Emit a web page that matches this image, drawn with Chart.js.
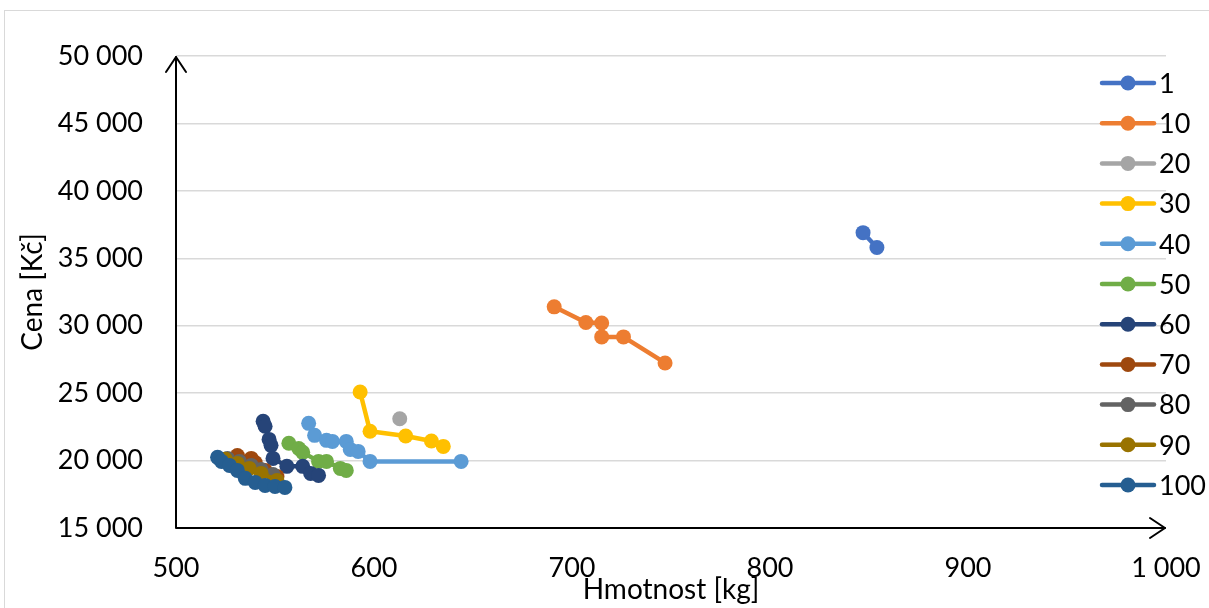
<!DOCTYPE html>
<html lang="cs">
<head>
<meta charset="utf-8">
<title>Cena a hmotnost</title>
<script src="https://cdn.jsdelivr.net/npm/chart.js@4.4.1/dist/chart.umd.min.js"></script>
<style>
  html, body { margin: 0; padding: 0; background: #fff; }
  #obal { width: 1209px; height: 608px; }
</style>
</head>
<body>
<div id="obal"><canvas id="graf" width="1209" height="608"></canvas></div>
<script>
// data
const nazvy = ['1', '10', '20', '30', '40', '50', '60', '70', '80', '90', '100'];
const barvy = ['#4472C4', '#ED7D31', '#A5A5A5', '#FFC000', '#5B9BD5', '#70AD47',
               '#264478', '#9E480E', '#636363', '#997300', '#255E91'];

const hmotnost1 = [847, 854];
const cena1 = [36900, 35800];
const hmotnost10 = [691, 707, 715, 715, 726, 747];
const cena10 = [31400, 30240, 30200, 29170, 29170, 27240];
const hmotnost20 = [613];
const cena20 = [23100];
const hmotnost30 = [593, 598, 616, 629, 635];
const cena30 = [25090, 22170, 21820, 21450, 21050];
const hmotnost40 = [567, 570, 576, 579, 586, 588, 592, 598, 644];
const cena40 = [22760, 21870, 21500, 21420, 21420, 20830, 20680, 19940, 19940];
const hmotnost50 = [557, 562, 564, 572, 576, 583, 586];
const cena50 = [21280, 20900, 20610, 19940, 19940, 19420, 19270];
const hmotnost60 = [544, 545, 547, 548, 549, 556, 564, 568, 572];
const cena60 = [22910, 22540, 21570, 21130, 20160, 19570, 19570, 19050, 18900];
const hmotnost70 = [531, 538, 540, 545, 551];
const cena70 = [20380, 20160, 19860, 19270, 18820];
const hmotnost80 = [526, 532, 538, 543, 549];
const cena80 = [20160, 19940, 19640, 19340, 18970];
const hmotnost90 = [525, 531, 537, 543, 551];
const cena90 = [20090, 19790, 19420, 19050, 18530];
const hmotnost100 = [521, 523, 527, 531, 535, 540, 545, 550, 555];
const cena100 = [20240, 19940, 19640, 19270, 18680, 18380, 18160, 18080, 18010];

const hmotnosti = [hmotnost1, hmotnost10, hmotnost20, hmotnost30, hmotnost40, hmotnost50,
                   hmotnost60, hmotnost70, hmotnost80, hmotnost90, hmotnost100];
const ceny = [cena1, cena10, cena20, cena30, cena40, cena50,
              cena60, cena70, cena80, cena90, cena100];

const osaX = { min: 500, max: 1000, krok: 100 };
const osaY = { min: 15000, max: 50000, krok: 5000 };

const tisice = (v) => String(v).replace(/\B(?=(\d{3})+(?!\d))/g, ' ');
const pismo = 'Lato, "Open Sans", sans-serif';

// pozadí, rámeček, osy se šipkami a legenda
const kresleni = {
    id: 'kresleni',
    beforeDraw(chart) {
        const c = chart.ctx;
        c.save();
        c.fillStyle = '#fff';
        c.fillRect(0, 0, chart.width, chart.height);
        c.strokeStyle = '#d9d9d9';
        c.lineWidth = 1;
        c.strokeRect(4.5, 10.5, chart.width + 20, chart.height + 20);
        c.restore();
    },
    beforeDatasetsDraw(chart) {
        const c = chart.ctx;
        const a = chart.chartArea;
        c.save();
        c.strokeStyle = '#000';
        c.lineWidth = 2;
        c.lineCap = 'round';
        c.lineJoin = 'round';
        c.beginPath();
        c.moveTo(a.left, a.top + 1);
        c.lineTo(a.left, a.bottom);
        c.lineTo(a.right - 1, a.bottom);
        c.stroke();
        // šipky
        c.beginPath();
        c.moveTo(a.left - 10, a.top + 16);
        c.lineTo(a.left, a.top + 1);
        c.lineTo(a.left + 10, a.top + 16);
        c.moveTo(a.right - 16, a.bottom - 10);
        c.lineTo(a.right - 1, a.bottom);
        c.lineTo(a.right - 16, a.bottom + 10);
        c.stroke();
        c.restore();
    },
    afterDraw(chart) {
        const c = chart.ctx;
        c.save();
        chart.data.datasets.forEach((ds, i) => {
            const y = 83 + i * 40.2;
            c.strokeStyle = ds.borderColor;
            c.lineWidth = 4.5;
            c.lineCap = 'round';
            c.beginPath();
            c.moveTo(1102, y);
            c.lineTo(1154, y);
            c.stroke();
            c.fillStyle = ds.borderColor;
            c.beginPath();
            c.arc(1128, y, 7.5, 0, Math.PI * 2);
            c.fill();
            c.fillStyle = '#000';
            c.font = '27px ' + pismo;
            c.textAlign = 'left';
            c.textBaseline = 'middle';
            c.fillText(ds.label, 1159, y + 1);
        });
        c.restore();
    }
};

const datasets = nazvy.map((nazev, i) => ({
    label: nazev,
    data: hmotnosti[i].map((x, j) => ({ x: x, y: ceny[i][j] })),
    borderColor: barvy[i],
    backgroundColor: barvy[i],
    showLine: true,
    borderWidth: 4.5,
    borderJoinStyle: 'round',
    borderCapStyle: 'round',
    pointRadius: 7.5,
    pointHoverRadius: 7.5,
    pointBorderWidth: 0,
    order: nazvy.length - i
}));

new Chart(document.getElementById('graf'), {
    type: 'scatter',
    data: { datasets: datasets },
    plugins: [kresleni],
    options: {
        responsive: false,
        animation: false,
        layout: { padding: { left: 0, right: 43, top: 56, bottom: 0 } },
        plugins: {
            legend: { display: false },
            tooltip: { enabled: false }
        },
        scales: {
            x: {
                type: 'linear',
                min: osaX.min,
                max: osaX.max,
                afterFit: (s) => { s.height = 80; s.paddingLeft = 0; s.paddingRight = 0; },
                grid: { display: false, drawTicks: false },
                border: { display: false },
                ticks: {
                    stepSize: osaX.krok,
                    padding: 24,
                    maxRotation: 0,
                    color: '#000',
                    font: { family: pismo, size: 27 },
                    callback: (v) => tisice(v)
                },
                title: {
                    display: true,
                    text: 'Hmotnost [kg]',
                    color: '#000',
                    font: { family: pismo, size: 28 },
                    padding: { top: 0, bottom: 1 }
                }
            },
            y: {
                type: 'linear',
                min: osaY.min,
                max: osaY.max,
                afterFit: (s) => { s.width = 176; s.paddingTop = 0; s.paddingBottom = 0; },
                grid: { color: '#d9d9d9', lineWidth: 1.5, drawTicks: false },
                border: { display: false },
                ticks: {
                    stepSize: osaY.krok,
                    padding: 33,
                    color: '#000',
                    font: { family: pismo, size: 27 },
                    callback: (v) => tisice(v)
                },
                title: {
                    display: true,
                    text: 'Cena [Kč]',
                    color: '#000',
                    font: { family: pismo, size: 28 },
                    padding: { top: 16, bottom: 0 }
                }
            }
        }
    }
});
</script>
</body>
</html>
